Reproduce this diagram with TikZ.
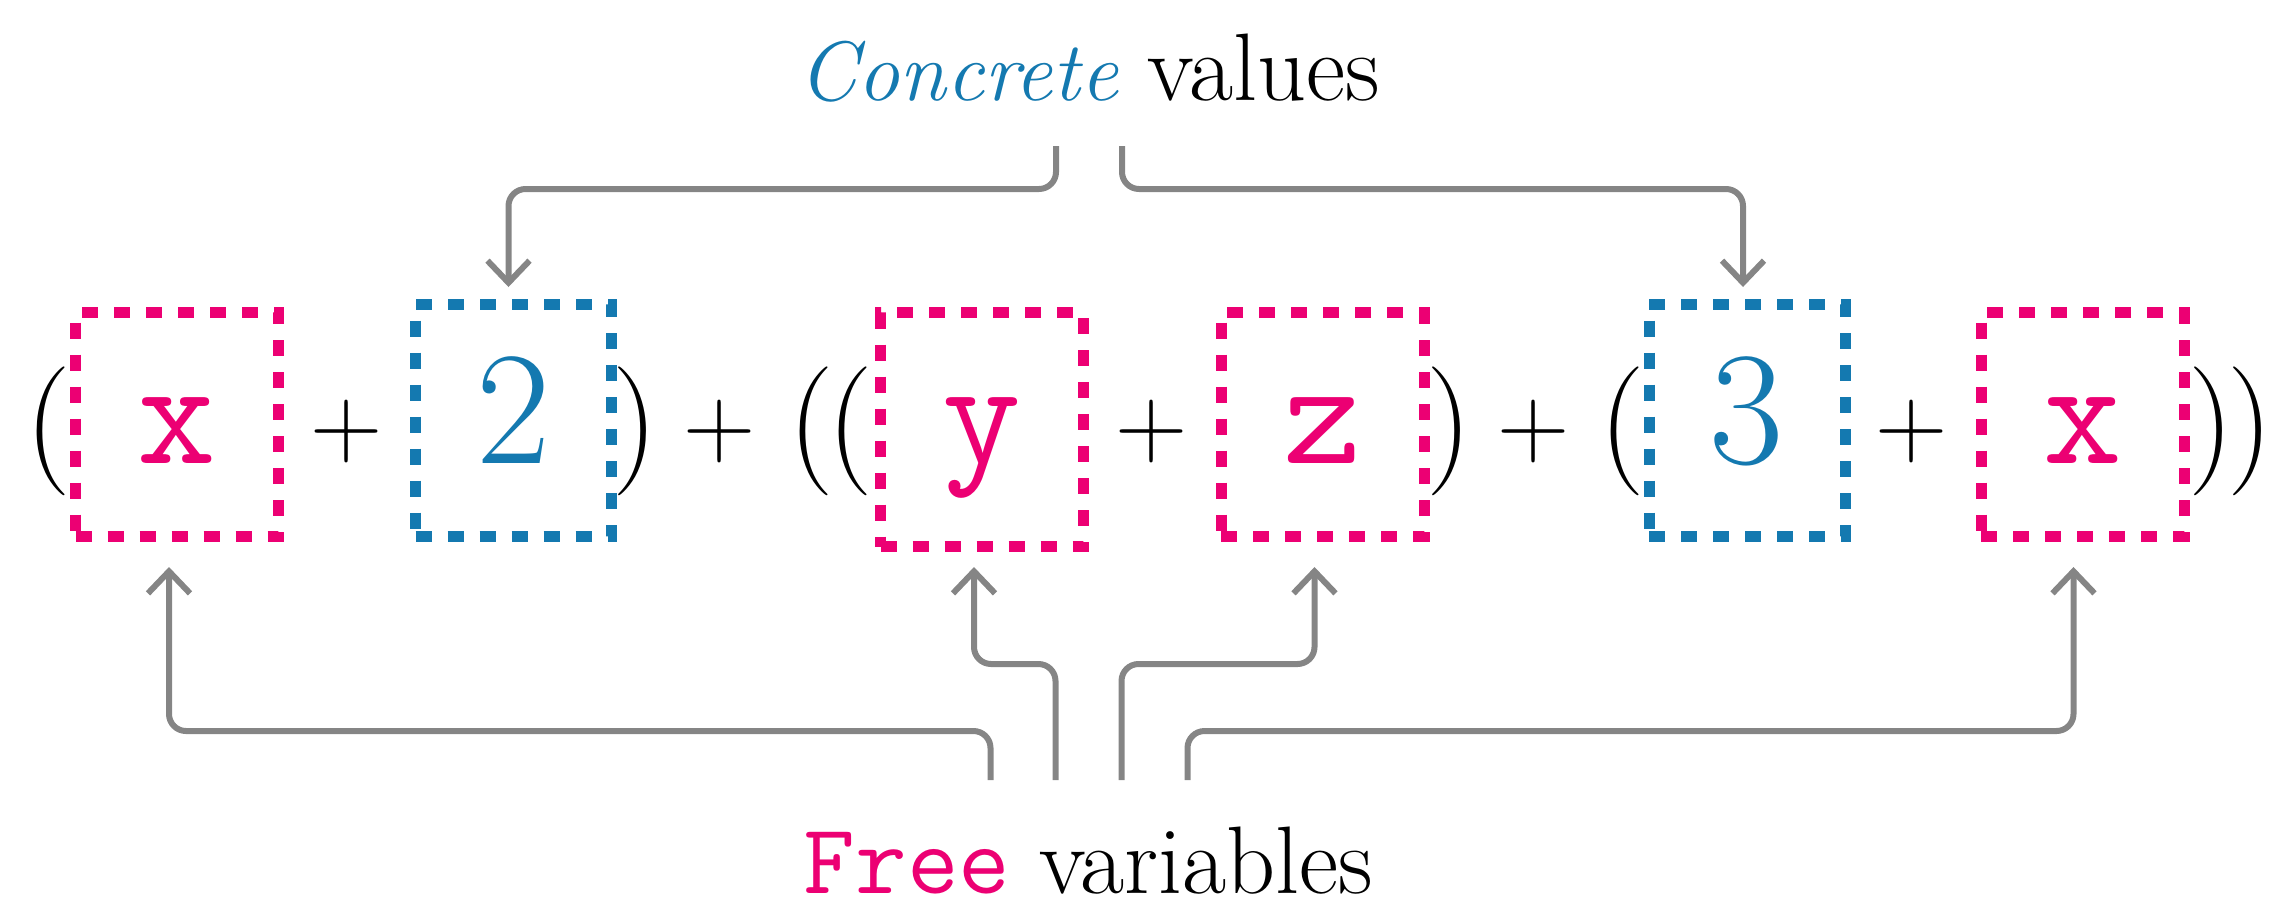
\documentclass[tikz,border=0pt]{standalone}
\usepackage{fontspec}
\usepackage{tikz}
\usetikzlibrary{arrows.meta,calc}
\definecolor{FreePink}{HTML}{EC0073}
\definecolor{ValBlue}{HTML}{1479B0}
\definecolor{LinkGray}{HTML}{858585}

\begin{document}
\begin{tikzpicture}[
x=0.1mm,y=0.1mm,
freebox/.style={draw=FreePink,text=FreePink,line width=1.1mm,dash pattern=on 1.6mm off 1.6mm,inner sep=0pt,minimum width=20.3mm,text height=15.05mm,text depth=7.35mm,anchor=base,font=\fontsize{43.5}{44}\selectfont\ttfamily},
valbox/.style={draw=ValBlue,text=ValBlue,line width=1.1mm,dash pattern=on 1.6mm off 1.6mm,inner sep=0pt,minimum width=19.6mm,text height=15.85mm,text depth=7.35mm,anchor=base,font=\fontsize{46}{46}\selectfont},
op/.style={inner sep=0pt,font=\fontsize{28.5}{29}\selectfont},
delim/.style={inner sep=0pt,font=\fontsize{36.7}{37}\selectfont},
lbl/.style={inner sep=0pt,anchor=base,font=\fontsize{27.3}{28}\selectfont},
conn/.style={draw=LinkGray,line width=0.6mm,rounded corners=1.7mm,-{Straight Barb[length=2.2mm,width=4.2mm]}}
]
\useasboundingbox (0,0) rectangle (2278,910);
% the expression
\node[delim] (pa) at (48,479) {(};
\node[freebox] (bxa) at (177,447) {x};
\node[op] (pla) at (346.5,479) {+};
\node[valbox] (bxtwo) at (513.5,447) {2};
\node[delim] (pb) at (635.5,479) {)};
\node[op] (plb) at (719.5,479) {+};
\node[delim] (pc) at (831,479) {(\kern-0.7mm(};
\node[freebox,text depth=8.35mm] (bxy) at (982,447) {y};
\node[op] (plc) at (1152,479) {+};
\node[freebox] (bxz) at (1322.5,447) {z};
\node[delim] (pd) at (1449.5,479) {)};
\node[op] (pld) at (1534,479) {+};
\node[delim] (pe) at (1622,479) {(};
\node[valbox] (bxthree) at (1747,447) {3};
\node[op] (ple) at (1912,479) {+};
\node[freebox] (bxb) at (2082.5,447) {x};
\node[delim] (pf) at (2231,479) {)\kern-0.7mm)};
% labels
\node[lbl] (cv) at (1089,810) {\textcolor{ValBlue}{\fontsize{24}{24}\selectfont\itshape Concrete\/} values};
\node[lbl] (fv) at (1088.5,17) {\textcolor{FreePink}{\fontsize{28.5}{28}\selectfont\ttfamily Free} variables};
\coordinate (cva) at ($(cv.base)+(-33,-46)$);
\coordinate (cvb) at ($(cv.base)+(33,-46)$);
\coordinate (fva) at ($(fv.base)+(-98,113)$);
\coordinate (fvb) at ($(fv.base)+(-33,113)$);
\coordinate (fvc) at ($(fv.base)+(33,113)$);
\coordinate (fvd) at ($(fv.base)+(99,113)$);
% connectors
\draw[conn] (cva) -- ++(0,-43) -| ($(bxtwo.north)+(-5,12)$);
\draw[conn] (cvb) -- ++(0,-43) -| ($(bxthree.north)+(-4,12)$);
\draw[conn] (fva) -- ++(0,49) -| ($(bxa.south)+(-8,-25)$);
\draw[conn] (fvb) -- ++(0,116) -| ($(bxy.south)+(-8,-15)$);
\draw[conn] (fvc) -- ++(0,116) -| ($(bxz.south)+(-8,-25)$);
\draw[conn] (fvd) -- ++(0,49) -| ($(bxb.south)+(-9,-25)$);
\end{tikzpicture}
\end{document}
